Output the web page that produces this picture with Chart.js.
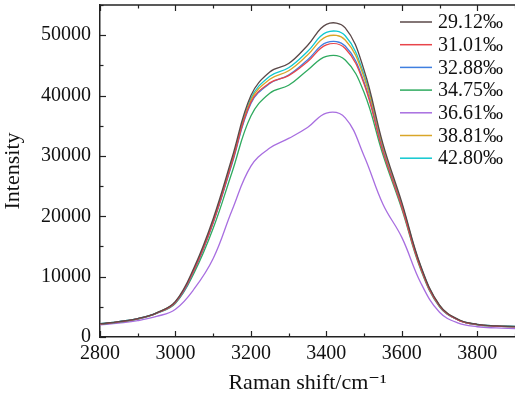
<!DOCTYPE html>
<html>
<head>
<meta charset="utf-8">
<script src="https://cdn.jsdelivr.net/npm/chart.js@4/dist/chart.umd.min.js"></script>
<style>
  html, body { margin: 0; padding: 0; background: #fff; }
  #wrap { width: 515px; height: 394px; }
</style>
</head>
<body>
<div id="wrap"><canvas id="raman"></canvas></div>
<script>
// Raman shift (cm-1) sample positions
const shift = [2800, 2850, 2900, 2950, 3000, 3050, 3100, 3150, 3200, 3250, 3300, 3350,
  3400, 3450, 3500, 3550, 3600, 3650, 3700, 3750, 3800, 3850, 3900]

const labels = ["29.12‰", "31.01‰", "32.88‰", "34.75‰", "36.61‰", "38.81‰", "42.80‰"]

// intensities
const s2912 = [2200, 2550, 3050, 4000, 5900, 11600, 19600, 29700, 40000, 43900, 45300, 48300,
  51800, 51200, 44200, 32000, 22300, 11800, 5300, 2900, 2100, 1850, 1750]
const s3101 = [2150, 2500, 3000, 3950, 5750, 11200, 19000, 28900, 38900, 42100, 43300, 45600,
  48400, 47800, 41900, 30700, 21500, 11400, 5100, 2800, 2050, 1800, 1700]
const s3288 = [2150, 2500, 3000, 3950, 5700, 11100, 18900, 28700, 38700, 42000, 43400, 45900,
  48750, 48200, 42200, 30900, 21600, 11500, 5100, 2800, 2050, 1800, 1700]
const s3475 = [2100, 2450, 2950, 3900, 5600, 10700, 18000, 27300, 36600, 40400, 41700, 44200,
  46500, 45900, 40500, 30200, 21200, 11200, 5000, 2800, 2000, 1800, 1700]
const s3661 = [2000, 2300, 2700, 3400, 4600, 8000, 13000, 21000, 28300, 31300, 32900, 34700,
  37100, 36300, 30000, 22000, 16500, 9000, 4100, 2300, 1700, 1500, 1400]
const s3881 = [2150, 2500, 3000, 3950, 5800, 11200, 19100, 29000, 39200, 42700, 44100, 46700,
  49750, 49200, 43000, 31400, 21900, 11600, 5200, 2850, 2050, 1800, 1700]
const s4280 = [2200, 2550, 3050, 4000, 5800, 11300, 19200, 29200, 39500, 43200, 44600, 47300,
  50450, 49900, 43400, 31600, 22000, 11700, 5200, 2850, 2100, 1850, 1750]

const series = [s2912, s3101, s3288, s3475, s3661, s3881, s4280]
const colors = ["#5a4848", "#e8454a", "#3f7fe0", "#2faa5f", "#a86ee0", "#d9a628", "#10c8d0"]

const serif = "'Liberation Serif', 'DejaVu Serif', serif"

// inward ticks, top frame line and the legend box in the corner
const frameTicks = {
  id: "frameTicks",
  afterDraw(chart) {
    const { ctx, chartArea: a } = chart
    const xs = chart.scales.x
    const ys = chart.scales.y
    ctx.save()
    ctx.strokeStyle = "#222"
    ctx.lineWidth = 1.5
    ctx.beginPath()
    ctx.moveTo(a.left - 0.75, a.top)
    ctx.lineTo(a.right + 1, a.top)
    ctx.stroke()
    ctx.lineWidth = 1.2
    for (let v = 2800; v <= 3900; v += 100) {
      const px = Math.round(xs.getPixelForValue(v)) + 0.5
      const len = v % 200 === 0 ? 6 : 3.5
      ctx.beginPath()
      ctx.moveTo(px, a.bottom)
      ctx.lineTo(px, a.bottom - len)
      ctx.moveTo(px, a.top)
      ctx.lineTo(px, a.top + len)
      ctx.stroke()
    }
    for (let v = 0; v <= 55000; v += 5000) {
      const py = Math.round(ys.getPixelForValue(v)) + 0.5
      const len = v % 10000 === 0 ? 6 : 3.5
      ctx.beginPath()
      ctx.moveTo(a.left, py)
      ctx.lineTo(a.left + len, py)
      ctx.stroke()
    }

    // legend
    ctx.font = "20px " + serif
    ctx.textBaseline = "middle"
    ctx.textAlign = "left"
    chart.data.datasets.forEach((ds, i) => {
      const y = a.top + 17 + i * 22.7
      ctx.strokeStyle = ds.borderColor
      ctx.lineWidth = 1.5
      ctx.beginPath()
      ctx.moveTo(400, y)
      ctx.lineTo(432, y)
      ctx.stroke()
      ctx.fillStyle = "#111"
      ctx.fillText(ds.label, 438, y + 1)
    })
    ctx.restore()
  },
}

new Chart(document.getElementById("raman"), {
  type: "line",
  data: {
    datasets: series.map((vals, i) => ({
      label: labels[i],
      data: vals.map((y, k) => ({ x: shift[k], y })),
      borderColor: colors[i],
      backgroundColor: colors[i],
      borderWidth: 1.3,
      pointRadius: 0,
      tension: 0.4,
      fill: false,
    })),
  },
  options: {
    responsive: true,
    maintainAspectRatio: false,
    animation: false,
    layout: { padding: { top: 5, right: 0, left: 0, bottom: 0 } },
    plugins: {
      tooltip: { enabled: false },
      legend: { display: false },
    },
    scales: {
      x: {
        type: "linear",
        min: 2800,
        max: 3900,
        afterFit: (s) => {
          s.height = 57
          s.paddingLeft = 0
          s.paddingRight = 0
        },
        border: { display: true, color: "#222", width: 1.5 },
        grid: { display: false, drawTicks: false },
        ticks: {
          stepSize: 100,
          autoSkip: false,
          maxRotation: 0,
          padding: 5,
          color: "#111",
          font: { family: serif, size: 20 },
          callback: (v) => (v % 200 === 0 && v < 3900 ? v : ""),
        },
        title: {
          display: true,
          text: "Raman shift/cm⁻¹",
          color: "#111",
          padding: { top: 0, bottom: 0 },
          font: { family: serif, size: 22, lineHeight: 1 },
        },
      },
      y: {
        min: 0,
        max: 55000,
        afterFit: (s) => {
          s.width = 100
          s.paddingTop = 0
          s.paddingBottom = 0
        },
        border: { display: true, color: "#222", width: 1.5 },
        grid: { display: false, drawTicks: false },
        ticks: {
          stepSize: 5000,
          autoSkip: false,
          padding: 9,
          color: "#111",
          font: { family: serif, size: 20 },
          callback: (v) => (v % 10000 === 0 ? v : ""),
        },
        title: {
          display: true,
          text: "Intensity",
          color: "#111",
          padding: { top: 2, bottom: 0 },
          font: { family: serif, size: 22, lineHeight: 1 },
        },
      },
    },
  },
  plugins: [frameTicks],
})
</script>
</body>
</html>
